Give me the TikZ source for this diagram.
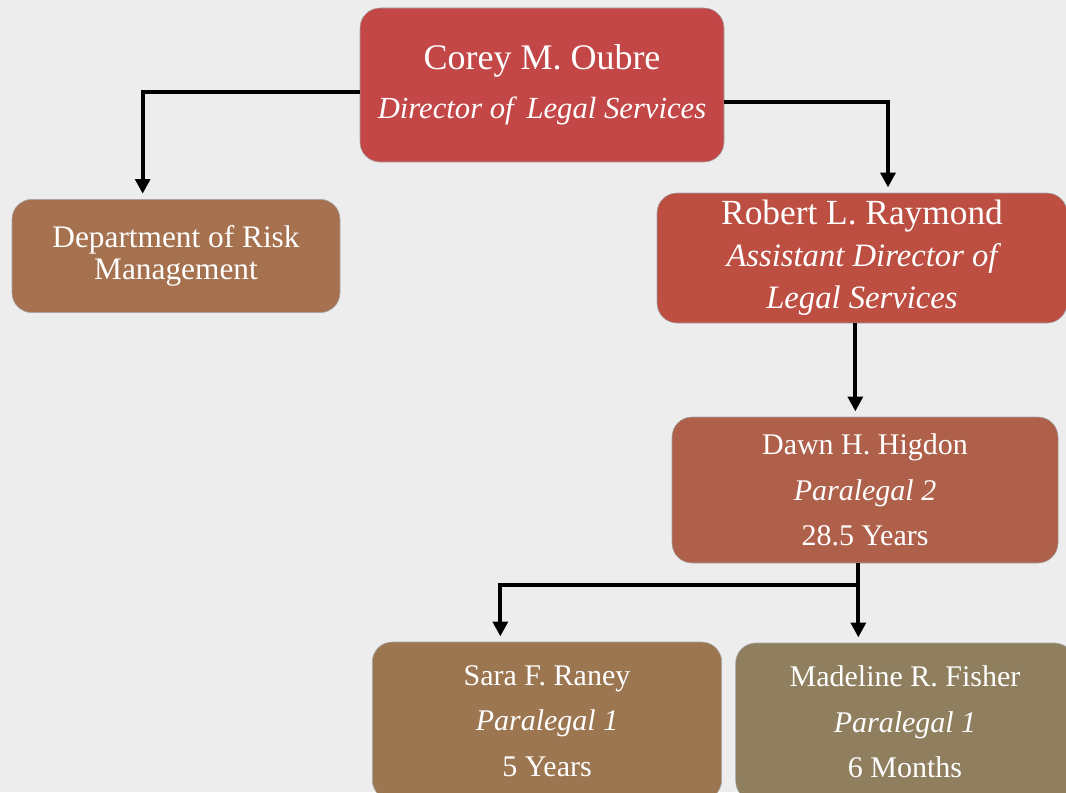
\documentclass[tikz,border=0pt]{standalone}
\usepackage{fontspec}
\setmainfont{Liberation Serif}
\usepackage{tikz}
\usetikzlibrary{arrows.meta}

\definecolor{paper}{HTML}{EDEDED}
\definecolor{topred}{HTML}{C44747}
\definecolor{midred}{HTML}{BD4E42}
\definecolor{rust}{HTML}{AF604A}
\definecolor{riskbrown}{HTML}{A5714F}
\definecolor{sarabrown}{HTML}{9C7651}
\definecolor{olive}{HTML}{8F7F5F}

\tikzset{
  box/.style={rounded corners=15pt, draw=black!35, line width=0.4pt,
    text=white, align=center, inner sep=0pt},
  conn/.style={line width=3pt, -{Triangle[width=11pt,length=11pt]}, shorten >=4pt}
}

\begin{document}
\begin{tikzpicture}[x=0.75pt,y=-0.75pt]
        \useasboundingbox[fill=paper] (0,0) rectangle (1066,792);

        \node [box, fill=topred, minimum width=273pt, minimum height=115.5pt,
          font=\fontsize{27}{37}\selectfont] (corey) at (542,85)
          {Corey M. Oubre\\ {\fontsize{23}{37}\selectfont\itshape Director of\, Legal Services}};
        \node [box, fill=riskbrown, minimum width=246pt, minimum height=85pt,
          font=\fontsize{23.5}{24.5}\selectfont] (risk) at (176,256)
          {Department of Risk\\ Management};
        \node [box, fill=midred, minimum width=307.5pt, minimum height=97.5pt,
          font=\fontsize{26.5}{31.5}\selectfont] (robert) at (862,258)
          {Robert L. Raymond\\ {\fontsize{24.5}{31.5}\selectfont\itshape Assistant Director of}\\
           {\fontsize{24.5}{31.5}\selectfont\itshape Legal Services}};
        \node [box, fill=rust, minimum width=289.5pt, minimum height=109.5pt,
          font=\fontsize{22.5}{34}\selectfont] (dawn) at (865,490)
          {Dawn H. Higdon\\ \textit{Paralegal 2}\\ 28.5 Years};
        \node [box, fill=sarabrown, minimum width=262pt, minimum height=118.5pt,
          font=\fontsize{22.5}{34}\selectfont] (sara) at (547,721)
          {Sara F. Raney\\ \textit{Paralegal 1}\\ 5 Years};
        \node [box, fill=olive, minimum width=254pt, minimum height=118.5pt,
          font=\fontsize{22.5}{34}\selectfont] (madeline) at (905,722)
          {Madeline R. Fisher\\ \textit{Paralegal 1}\\ 6 Months};

        \draw [conn] ([yshift=-5pt]corey.west) -| ([xshift=-25pt]risk.north);
        \draw [conn] ([yshift=-13pt]corey.east) -| ([xshift=19.5pt]robert.north);
        \draw [conn] ([xshift=-5pt]robert.south) -- ([xshift=-5pt]robert.south |- dawn.north);
        \draw [conn] ([xshift=-5pt]dawn.south) -- ([xshift=-5pt]dawn.south |- madeline.north);
        \draw [conn] ([xshift=-5pt,yshift=-16pt]dawn.south) -| ([xshift=-35pt]sara.north);
    \end{tikzpicture}
\end{document}
